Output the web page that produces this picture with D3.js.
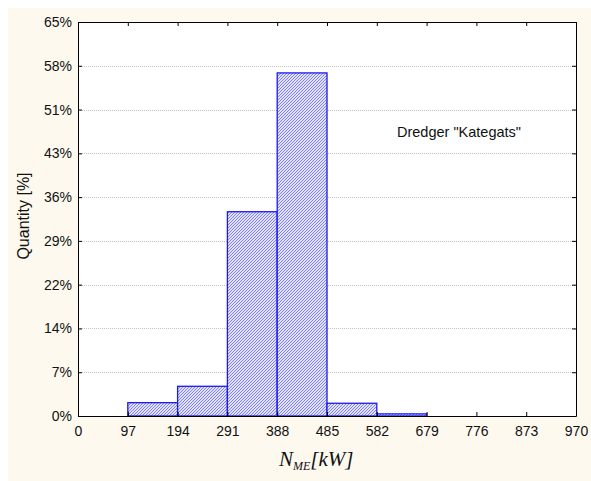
<!DOCTYPE html>
<html lang="en-US">
<head>
    <meta charset="UTF-8" />
    <title>Dredger Kategats histogram</title>
    <style>
        body { margin: 0; background: #fff; }
        .grid line { stroke: #c4c4c4; stroke-dasharray: 1,1; }
    </style>
    <script src="https://d3js.org/d3.v7.min.js"></script>
</head>
<body>
    <div id="chart"></div>
    <script>
        // bin edges (kW) and share of each bin (%)
        const binStarts = [0, 97, 194, 291, 388, 485, 582, 679, 776, 873];
        const binWidth = 97;
        const quantity = [0, 2.2, 4.9, 33.7, 56.6, 2.1, 0.35, 0, 0, 0];
        const yTicks = [0, 7, 14, 22, 29, 36, 43, 51, 58, 65];
        const xTicks = [0, 97, 194, 291, 388, 485, 582, 679, 776, 873, 970];

        const width = 591, height = 481;
        const margin = { left: 78, top: 22, right: 15, bottom: 65 };
        const sans = "'Liberation Sans', Arial, sans-serif";

        const svg = d3.select("#chart").append("svg")
            .attr("width", width).attr("height", height);

        svg.append("rect")
            .attr("x", 8).attr("y", 8)
            .attr("width", width - 8).attr("height", height - 8)
            .attr("fill", "#fdf9ef");

        const x = d3.scaleLinear().domain([0, 970]).range([margin.left, width - margin.right]);
        const y = d3.scaleLinear().domain([0, 65]).range([height - margin.bottom, margin.top]);

        // the labels are rounded, real ticks are every 65/9
        const tickPos = yTicks.map((t, i) => i * 65 / 9);

        svg.append("rect")
            .attr("x", x(0)).attr("y", y(65))
            .attr("width", x(970) - x(0)).attr("height", y(0) - y(65))
            .attr("fill", "#fff");

        const defs = svg.append("defs");
        const pat = defs.append("pattern")
            .attr("id", "hatch")
            .attr("patternUnits", "userSpaceOnUse")
            .attr("width", 3).attr("height", 3);
        pat.append("rect").attr("width", 3).attr("height", 3).attr("fill", "#e2e2fd");
        [[0, 2], [1, 1], [2, 0]].forEach(p => {
            pat.append("rect").attr("x", p[0]).attr("y", p[1])
                .attr("width", 1).attr("height", 1).attr("fill", "#8080f2");
        });

        // gridlines
        svg.append("g").attr("class", "grid")
            .selectAll("line")
            .data(tickPos.slice(1, -1))
            .join("line")
            .attr("x1", x(0)).attr("x2", x(970))
            .attr("y1", d => Math.round(y(d)) + 0.5).attr("y2", d => Math.round(y(d)) + 0.5);

        // bars
        svg.append("g")
            .selectAll("rect")
            .data(binStarts.map((s, i) => ({ s, v: quantity[i] })))
            .join("rect")
            .attr("x", d => x(d.s))
            .attr("y", d => y(d.v))
            .attr("width", x(binWidth) - x(0))
            .attr("height", d => y(0) - y(d.v))
            .attr("fill", "url(#hatch)")
            .attr("stroke", "#1a1af2")
            .attr("stroke-width", 1.3);

        // axes with ticks pointing inward
        const yAxis = d3.axisLeft(y).tickValues(tickPos)
            .tickFormat((d, i) => yTicks[i] + "%").tickSizeInner(-4).tickSizeOuter(0).tickPadding(6);
        const yAxisR = d3.axisRight(y).tickValues(tickPos)
            .tickFormat("").tickSizeInner(-4).tickSizeOuter(0);
        const xAxis = d3.axisBottom(x).tickValues(xTicks)
            .tickSizeInner(-4).tickSizeOuter(0).tickPadding(10);
        const xAxisT = d3.axisTop(x).tickValues(xTicks)
            .tickFormat("").tickSizeInner(-4).tickSizeOuter(0);

        function styleAxis(g) {
            g.selectAll("path, line").attr("stroke", "#000");
            g.selectAll("text").attr("font-size", 14).attr("font-family", sans).attr("fill", "#111");
        }

        svg.append("g").attr("transform", `translate(${x(0)},0)`).call(yAxis).call(styleAxis);
        svg.append("g").attr("transform", `translate(${x(970)},0)`).call(yAxisR).call(styleAxis);
        svg.append("g").attr("transform", `translate(0,${y(0)})`).call(xAxis).call(styleAxis);
        svg.append("g").attr("transform", `translate(0,${y(65)})`).call(xAxisT).call(styleAxis);

        svg.append("text")
            .attr("x", 397).attr("y", 137)
            .attr("font-family", sans)
            .attr("font-size", 14.5)
            .attr("fill", "#111")
            .text('Dredger "Kategats"');

        svg.append("text")
            .attr("transform", "translate(29,216) rotate(-90)")
            .attr("text-anchor", "middle")
            .attr("font-family", sans)
            .attr("font-size", 16)
            .attr("fill", "#111")
            .text("Quantity [%]");

        const xt = svg.append("text")
            .attr("x", 279).attr("y", 466)
            .attr("font-family", "'Liberation Serif', 'Times New Roman', serif")
            .attr("font-style", "italic")
            .attr("font-size", 21)
            .attr("fill", "#111");
        xt.append("tspan").text("N");
        xt.append("tspan").attr("font-size", 12).attr("dy", 4).text("ME");
        xt.append("tspan").attr("dy", -4).text("[kW]");
    </script>
</body>
</html>
